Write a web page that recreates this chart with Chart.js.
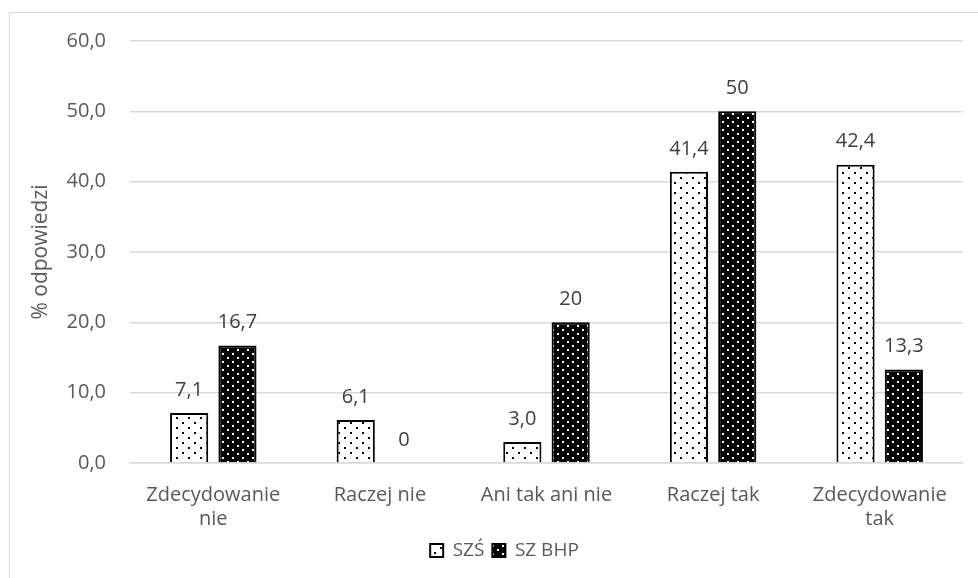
<!DOCTYPE html>
<html>
<head>
<meta charset="utf-8">
<script src="https://cdn.jsdelivr.net/npm/chart.js@4/dist/chart.umd.min.js"></script>
<style>
  body { margin: 0; background: #fff; }
  #frame { position: absolute; left: 9px; top: 12px; width: 990px; height: 600px; border: 1px solid #d9d9d9; }
  #graph { position: absolute; left: 0; top: 0; }
</style>
</head>
<body>
<div id="frame"></div>
<canvas id="graph" width="978" height="578"></canvas>
<script>
//chart data
const categories = [["Zdecydowanie", "nie"], "Raczej nie", "Ani tak ani nie", "Raczej tak", ["Zdecydowanie", "tak"]];
const szsValues = [7.1, 6.1, 3.0, 41.4, 42.4];
const szsLabels = ["7,1", "6,1", "3,0", "41,4", "42,4"];
const bhpValues = [16.7, 0, 20, 50, 13.3];
const bhpLabels = ["16,7", "0", "20", "50", "13,3"];
const yTicks = [0, 10, 20, 30, 40, 50, 60];

const fontFamily = "'Open Sans', sans-serif";

//dotted patterns for the bars
const makePattern = (bg, fg, w, h, dots) => {
    const c = document.createElement("canvas");
    c.width = w;
    c.height = h;
    const ctx = c.getContext("2d");
    ctx.fillStyle = bg;
    ctx.fillRect(0, 0, w, h);
    ctx.fillStyle = fg;
    dots.forEach(d => ctx.fillRect(d[0], d[1], 2, 2));
    return ctx.createPattern(c, "repeat");
};

const szsPattern = makePattern("#ffffff", "#000000", 12, 10, [[2, 2], [8, 7]]);
const bhpPattern = makePattern("#000000", "#ffffff", 10, 8, [[2, 1], [7, 5]]);

//value labels above bars
const valueLabels = {
    id: "valueLabels",
    afterDatasetsDraw(chart) {
        const ctx = chart.ctx;
        const texts = [szsLabels, bhpLabels];
        ctx.save();
        ctx.font = "20px " + fontFamily;
        ctx.fillStyle = "#404040";
        ctx.textAlign = "center";
        ctx.textBaseline = "middle";
        chart.data.datasets.forEach((ds, i) => {
            chart.getDatasetMeta(i).data.forEach((bar, j) => {
                ctx.fillText(texts[i][j], bar.x, bar.y - 23);
            });
        });
        ctx.restore();
    }
};

new Chart(document.getElementById("graph"), {
    type: "bar",
    data: {
        labels: categories,
        datasets: [
            {
                label: "SZŚ",
                data: szsValues,
                backgroundColor: szsPattern,
                borderColor: "#000000",
                borderWidth: 2,
                categoryPercentage: 0.58,
                barPercentage: 0.79
            },
            {
                label: "SZ BHP",
                data: bhpValues,
                backgroundColor: bhpPattern,
                borderColor: "#000000",
                borderWidth: 2,
                categoryPercentage: 0.58,
                barPercentage: 0.79
            }
        ]
    },
    options: {
        responsive: false,
        animation: false,
        devicePixelRatio: 1,
        layout: {
            padding: { left: 46, right: 15, top: 41, bottom: 8 }
        },
        plugins: {
            tooltip: { enabled: false },
            legend: {
                position: "bottom",
                labels: {
                    boxWidth: 13,
                    boxHeight: 13,
                    padding: 8,
                    color: "#595959",
                    font: { family: fontFamily, size: 19 }
                }
            }
        },
        scales: {
            x: {
                grid: { display: false, drawTicks: false },
                border: { color: "#d9d9d9", width: 1.5 },
                ticks: {
                    color: "#595959",
                    padding: 20,
                    maxRotation: 0,
                    autoSkip: false,
                    font: { family: fontFamily, size: 20 }
                },
                afterFit: scale => { scale.height = 70; }
            },
            y: {
                min: 0,
                max: 60,
                afterBuildTicks: scale => { scale.ticks = yTicks.map(v => ({ value: v })); },
                grid: { color: "#d9d9d9", lineWidth: 1.5, drawTicks: false },
                border: { display: false },
                ticks: {
                    color: "#595959",
                    padding: 24,
                    font: { family: fontFamily, size: 20 },
                    callback: v => v.toFixed(1).replace(".", ",")
                },
                title: {
                    display: true,
                    text: "% odpowiedzi",
                    color: "#595959",
                    padding: { top: -18, bottom: 0 },
                    font: { family: fontFamily, size: 21 }
                },
                afterFit: scale => { scale.width = 84; }
            }
        }
    },
    plugins: [valueLabels]
});
</script>
</body>
</html>
